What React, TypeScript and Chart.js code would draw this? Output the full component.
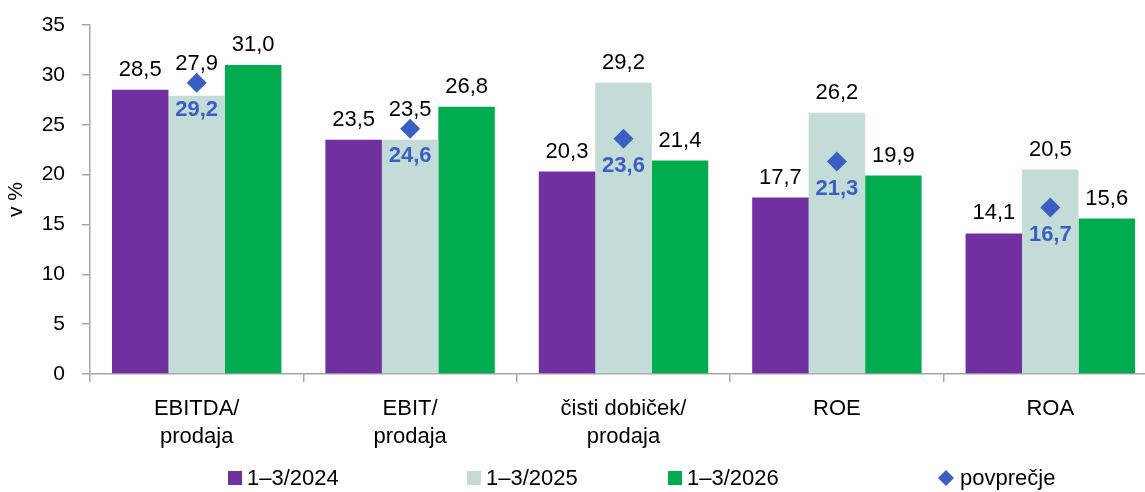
import React, { useEffect, useRef } from "react";
import { Chart, registerables } from "chart.js";

Chart.register(...registerables);

const categories: string[][] = [
  ["EBITDA/", "prodaja"],
  ["EBIT/", "prodaja"],
  ["čisti dobiček/", "prodaja"],
  ["ROE"],
  ["ROA"],
];
const series2024 = [28.5, 23.5, 20.3, 17.7, 14.1];
const series2025 = [27.9, 23.5, 29.2, 26.2, 20.5];
const series2026 = [31.0, 26.8, 21.4, 19.9, 15.6];
const average = [29.2, 24.6, 23.6, 21.3, 16.7];
const seriesNames = ["1–3/2024", "1–3/2025", "1–3/2026", "povprečje"];
const yTicks = [0, 5, 10, 15, 20, 25, 30, 35];
const yTitle = "v %";

const PURPLE = "#7030A0";
const TEAL = "#C4DCD8";
const GREEN = "#00AC4E";
const BLUE = "#3A5FC4";
const AXIS = "#A6A6A6";
const FONT = '"Liberation Sans", Arial, sans-serif';

const fmt = (v: number) => v.toFixed(1).replace(".", ",");

const labelPlugin = {
  id: "valueLabels",
  afterDatasetsDraw(chart: any) {
    const ctx = chart.ctx;
    const avgMeta = chart.getDatasetMeta(3);
    ctx.save();
    ctx.font = `22px ${FONT}`;
    ctx.textAlign = "center";
    ctx.textBaseline = "middle";
    ctx.fillStyle = "#000";
    [0, 1, 2].forEach((di) => {
      const meta = chart.getDatasetMeta(di);
      const data = chart.data.datasets[di].data as number[];
      meta.data.forEach((bar: any, i: number) => {
        let y = bar.y - 20;
        if (di === 1 && average[i] > data[i]) {
          y = Math.min(y, avgMeta.data[i].y - 19);
        }
        ctx.fillText(fmt(data[i]), bar.x, y);
      });
    });
    ctx.font = `bold 22px ${FONT}`;
    ctx.fillStyle = BLUE;
    avgMeta.data.forEach((pt: any, i: number) => {
      ctx.fillText(fmt(average[i]), pt.x, pt.y + 27);
    });
    ctx.restore();
  },
};

const legendPlugin = {
  id: "customLegend",
  afterDraw(chart: any) {
    const ctx = chart.ctx;
    const y = 478;
    const xs = [228, 467, 668, 938];
    const colors = [PURPLE, TEAL, GREEN, BLUE];
    ctx.save();
    ctx.font = `22px ${FONT}`;
    ctx.textAlign = "left";
    ctx.textBaseline = "middle";
    seriesNames.forEach((name, i) => {
      ctx.fillStyle = colors[i];
      if (i < 3) {
        ctx.fillRect(xs[i], y - 7, 14, 14);
      } else {
        const cx = xs[i] + 8;
        ctx.beginPath();
        ctx.moveTo(cx - 8, y);
        ctx.lineTo(cx, y - 8);
        ctx.lineTo(cx + 8, y);
        ctx.lineTo(cx, y + 8);
        ctx.closePath();
        ctx.fill();
      }
      ctx.fillStyle = "#000";
      ctx.fillText(name, xs[i] + (i < 3 ? 19 : 22), y + 1);
    });
    ctx.restore();
  },
};

export default function App() {
  const ref = useRef<HTMLCanvasElement | null>(null);

  useEffect(() => {
    if (!ref.current) return;
    Chart.defaults.font.family = FONT;
    Chart.defaults.color = "#000";
    const chart = new Chart(ref.current, {
      type: "bar",
      data: {
        labels: categories,
        datasets: [
          {
            label: seriesNames[0],
            data: series2024,
            backgroundColor: PURPLE,
            order: 1,
            categoryPercentage: 0.794,
            barPercentage: 1,
          },
          {
            label: seriesNames[1],
            data: series2025,
            backgroundColor: TEAL,
            order: 1,
            categoryPercentage: 0.794,
            barPercentage: 1,
          },
          {
            label: seriesNames[2],
            data: series2026,
            backgroundColor: GREEN,
            order: 1,
            categoryPercentage: 0.794,
            barPercentage: 1,
          },
          {
            type: "line",
            label: seriesNames[3],
            data: average,
            showLine: false,
            pointStyle: "rectRot",
            pointRadius: 10,
            pointBackgroundColor: BLUE,
            pointBorderColor: BLUE,
            pointBorderWidth: 0,
            order: 0,
          } as any,
        ],
      },
      options: {
        responsive: false,
        animation: false,
        devicePixelRatio: 1,
        layout: { padding: { top: 25, right: 13, bottom: 0, left: 0 } },
        plugins: {
          legend: { display: false },
          tooltip: { enabled: false },
        },
        scales: {
          x: {
            offset: true,
            grid: {
              offset: true,
              drawOnChartArea: false,
              drawTicks: true,
              tickLength: 8,
              color: AXIS,
              lineWidth: 1.5,
            },
            border: { color: AXIS, width: 1.5 },
            ticks: {
              font: { size: 22, lineHeight: 28 / 22 },
              color: "#000",
              padding: 13,
              maxRotation: 0,
              autoSkip: false,
            },
            afterFit: (scale: any) => {
              scale.height = 118;
            },
          },
          y: {
            min: 0,
            max: 35,
            afterBuildTicks: (scale: any) => {
              scale.ticks = yTicks.map((v) => ({ value: v }));
            },
            grid: {
              drawOnChartArea: false,
              drawTicks: true,
              tickLength: 8,
              color: AXIS,
              lineWidth: 1.5,
            },
            border: { color: AXIS, width: 1.5 },
            ticks: {
              font: { size: 21 },
              color: "#000",
              padding: 17,
            },
            title: {
              display: true,
              text: yTitle,
              font: { size: 21 },
              color: "#000",
              padding: { top: 4, bottom: 0 },
            },
            afterFit: (scale: any) => {
              scale.width = 90;
              scale.paddingTop = 12;
              scale.paddingBottom = 12;
            },
          },
        },
      },
      plugins: [labelPlugin, legendPlugin],
    });
    return () => chart.destroy();
  }, []);

  return (
    <div
      style={{
        position: "fixed",
        left: 0,
        top: 0,
        width: 1145,
        height: 492,
        overflow: "hidden",
        background: "#fff",
      }}
    >
      <canvas ref={ref} width={1170} height={492} style={{ display: "block" }} />
    </div>
  );
}
